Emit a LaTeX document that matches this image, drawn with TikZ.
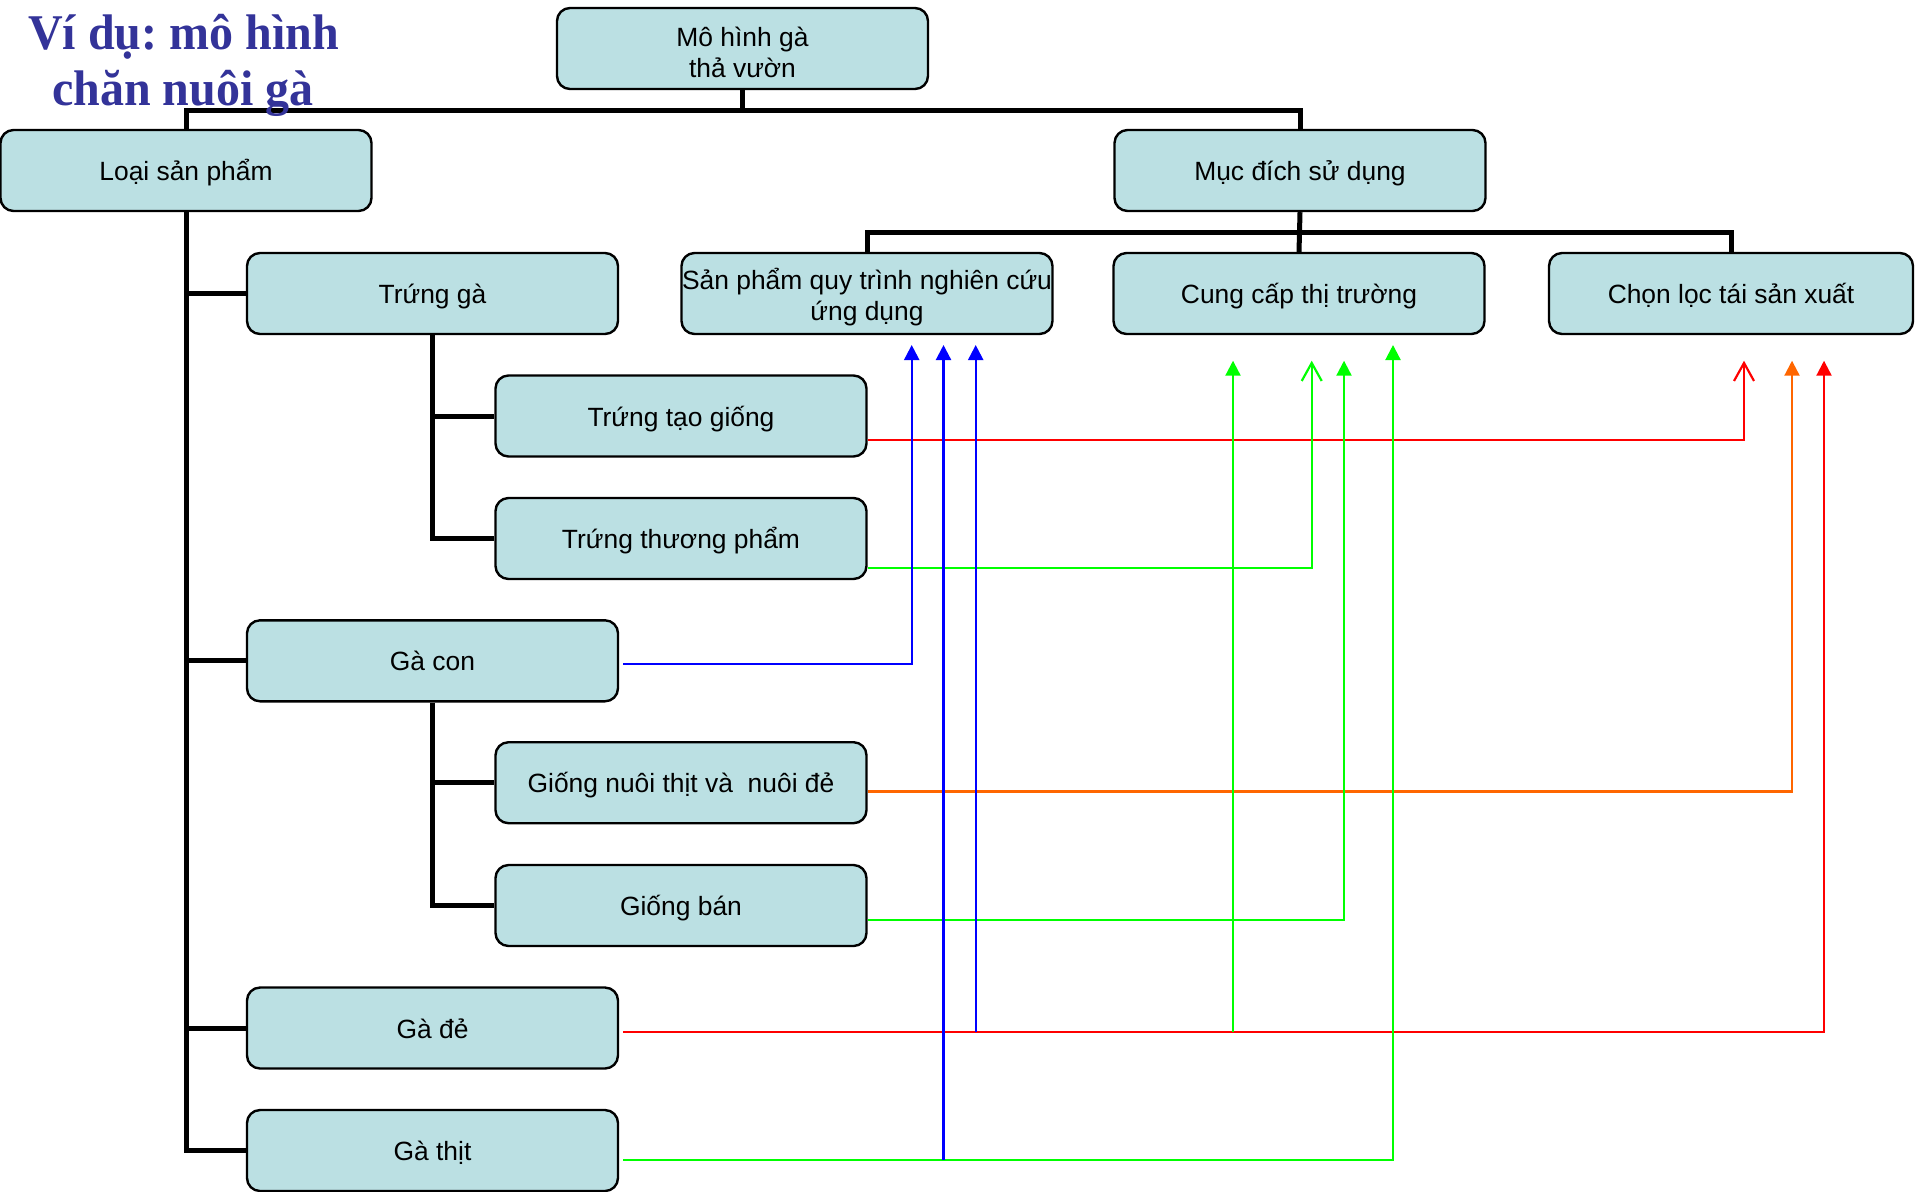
\documentclass[tikz,border=0pt]{standalone}
\usepackage{fontspec}
\setmainfont{Liberation Sans}
\newfontfamily\titlefont[FakeStretch=0.96]{Liberation Serif}
\usetikzlibrary{arrows.meta}
\definecolor{boxfill}{RGB}{187,224,227}
\definecolor{titleblue}{RGB}{51,51,153}
\definecolor{lgreen}{RGB}{0,255,0}
\definecolor{lorange}{RGB}{255,102,0}
\definecolor{lred}{RGB}{255,0,0}
\definecolor{lblue}{RGB}{0,0,255}
\frenchspacing
\begin{document}
\begin{tikzpicture}[x=0.5pt,y=-0.5pt,
  box/.style={draw=black, line width=1.2pt, fill=boxfill, rounded corners=6.5pt,
    minimum width=185.5pt, minimum height=40.5pt, inner sep=0pt, align=center,
    font=\fontsize{13.2}{15.5}\selectfont},
  onebox/.style={box, text height=12.5pt, text depth=2.5pt},
  tree/.style={line width=2.5pt, draw=black},
  link/.style={line width=1.1pt},
  fillarrow/.style={-{Triangle[length=7.5pt,width=7.5pt]}},
  openarrow/.style={-{Straight Barb[length=9pt,width=10pt]}},
  titletext/.style={text=titleblue, font=\titlefont\bfseries\fontsize{25}{28}\selectfont,
    inner sep=0pt, anchor=base}
]
\useasboundingbox (0,0) rectangle (1915,1191);

% boxes
\node[box] (top) at (742.5,48.5) {\rule{0pt}{14pt}Mô hình gà\\thả vườn};
\node[onebox] (loai) at (186,170.5) {Loại sản phẩm};
\node[onebox] (mucdich) at (1300,170.5) {Mục đích sử dụng};
\node[onebox] (trung) at (432.5,293.5) {Trứng gà};
\node[box] (sp) at (867,293.5) {\rule{0pt}{14pt}Sản phẩm quy trình nghiên cứu\\ứng dụng};
\node[onebox] (cungcap) at (1299,293.5) {Cung cấp thị trường};
\node[onebox, minimum width=182pt] (chonloc) at (1731,293.5) {Chọn lọc tái sản xuất};
\node[onebox] (ttg) at (681,416) {Trứng tạo giống};
\node[onebox] (ttp) at (681,538.5) {Trứng thương phẩm};
\node[onebox] (gacon) at (432.5,660.8) {Gà con};
\node[onebox] (gnt) at (681,782.7) {Giống nuôi thịt và\ \ nuôi đẻ};
\node[onebox] (gban) at (681,905.5) {Giống bán};
\node[onebox] (gade) at (432.5,1028) {Gà đẻ};
\node[onebox] (gathit) at (432.5,1150.5) {Gà thịt};

% tree connectors
\coordinate (j1) at (742.5,110);
\coordinate (j2) at (1300,232.5);
\draw[tree] (top.south) -- (j1);
\draw[tree] (loai.north) |- (j1) -| (mucdich.north);
\draw[tree] (mucdich.south) -- (cungcap.north);
\draw[tree] (sp.north) |- (j2) -| (chonloc.north);
\draw[tree] (loai.south) |- (gathit.west);
\draw[tree] (loai.south |- trung.west) -- (trung.west);
\draw[tree] (loai.south |- gacon.west) -- (gacon.west);
\draw[tree] (loai.south |- gade.west) -- (gade.west);
\draw[tree] (trung.south) |- (ttp.west);
\draw[tree] (trung.south |- ttg.west) -- (ttg.west);
\draw[tree] (gacon.south) |- (gban.west);
\draw[tree] (gacon.south |- gnt.west) -- (gnt.west);

% arrow tips
\coordinate (tB1) at (911.7,345);
\coordinate (tB2) at (943.5,345);
\coordinate (tB3) at (975.7,345);
\coordinate (tG1) at (1233,360.7);
\coordinate (tG2) at (1311.7,360.7);
\coordinate (tG3) at (1344,360.7);
\coordinate (tG4) at (1393,345);
\coordinate (tR1) at (1744,360.7);
\coordinate (tO) at (1792,360.7);
\coordinate (tR2) at (1824,360.7);

% start points
\coordinate (sttg) at ([yshift=-11.9pt]ttg.east);
\coordinate (sttp) at ([yshift=-14.85pt]ttp.east);
\coordinate (sgc) at ([xshift=2pt,yshift=-1.4pt]gacon.east);
\coordinate (sgnt) at ([yshift=-4.35pt]gnt.east);
\coordinate (sgb) at ([yshift=-7.25pt]gban.east);
\coordinate (sgd) at ([xshift=2pt,yshift=-2pt]gade.east);
\coordinate (sgt) at ([xshift=2pt,yshift=-4.75pt]gathit.east);

% colored links
\draw[link, lred, openarrow] (sttg) -| (tR1);
\draw[link, lgreen, openarrow] (sttp) -| (tG2);
\draw[link, lblue, fillarrow] (sgc) -| (tB1);
\draw[link, lorange, fillarrow] (sgnt) -| (tO);
\draw[link, lgreen, fillarrow] (sgb) -| (tG3);
\draw[link, lred, fillarrow] (sgd) -| (tR2);
\draw[link, lblue, fillarrow] (sgd -| tB3) -- (tB3);
\draw[link, lgreen, fillarrow] (sgd -| tG1) -- (tG1);
\draw[link, lgreen, fillarrow] (sgt) -| (tG4);
\draw[link, lblue, fillarrow] (sgt -| tB2) -- (tB2);

% title
\node[titletext] (title1) at (183.5,49.3) {Ví dụ: mô hình};
\node[titletext] (title2) at (183,105) {chăn nuôi gà};
\end{tikzpicture}
\end{document}
